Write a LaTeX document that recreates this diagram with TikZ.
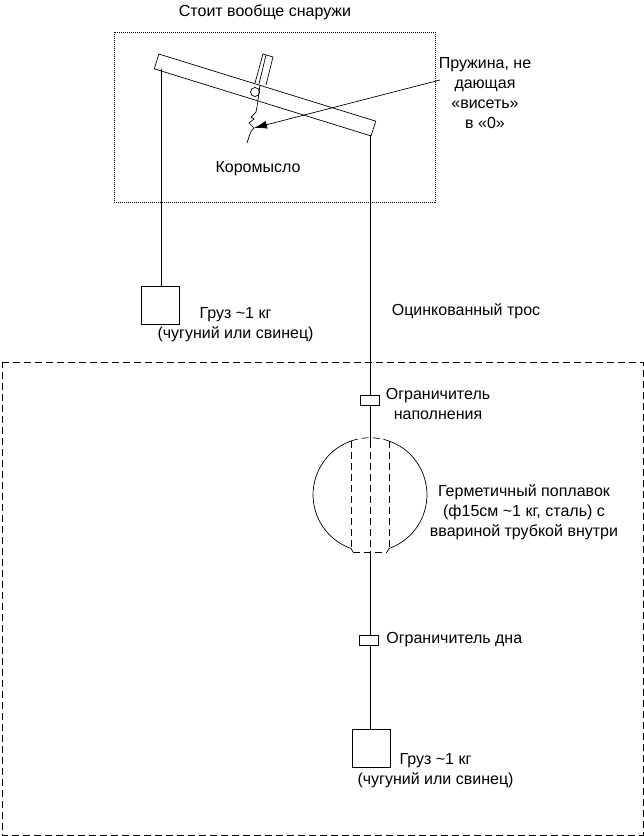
\documentclass[tikz,border=0pt]{standalone}
\usepackage{fontspec}
\usetikzlibrary{arrows.meta}
\setmainfont{Liberation Sans}
\tikzset{
  lbl/.style={align=center,inner sep=0pt,font=\fontsize{16}{20}\selectfont},
  longdash/.style={dash pattern=on 7pt off 4pt},
  weight/.style={rectangle,draw,inner sep=0pt,minimum width=38pt,minimum height=38pt},
  stopper/.style={rectangle,draw,fill=white,inner sep=0pt,minimum width=19pt,minimum height=10pt},
}
\begin{document}
\begin{tikzpicture}[x=1pt,y=-1pt,line width=0.7pt]
  \useasboundingbox (0,0) rectangle (644,836);
  % frames
  \draw[dash pattern=on 1pt off 1pt] (114,32) rectangle (435,202);
  \draw[longdash] (2,362) -- (643,362) -- (643,835) -- (2,835) -- cycle;
  % rocker
  \node[rectangle,draw,rotate=-17.2,inner sep=0pt,minimum width=227pt,minimum height=15.5pt] (beam) at (265,95) {};
  \node[circle,draw,inner sep=0pt,minimum size=9pt] (pivot) at (255,92) {};
  \coordinate (ltop) at (161,69);
  \coordinate (rtop) at (370,135);
  \draw (255,83) -- (263,54) -- (273,57) -- (266,85);
  \draw (259,84) -- (266,55);
  \coordinate (springend) at (254,128);
  \draw (260,85) -- (258,100) -- (257,107) -- (256,112) -- (251,117) -- (254,119) -- (249,123) -- (springend) .. controls (250,131) and (249,137) .. (247,143);
  \coordinate (arrowstart) at (440,80);
  \draw[-{Latex[length=13pt,width=8pt]}] (arrowstart) -- (springend);
  % left weight
  \node[weight] (wa) at (160,305) {};
  \draw (ltop) -- (wa.north -| ltop);
  % rope, stoppers, float
  \coordinate (floattop) at (370,441);
  \coordinate (floatbot) at (370,552);
  \node[weight] (wb) at (371,748) {};
  \draw (rtop) -- (floattop);
  \draw[longdash] (floattop) -- (floatbot);
  \draw (floatbot) -- (wb.north -| floatbot);
  \node[stopper] (stopa) at (369.5,400) {};
  \node[stopper] (stopb) at (369,640) {};
  \draw (351,441) arc[start angle=109.5,end angle=250.5,radius=57pt] -- (353,552);
  \draw (389,441) arc[start angle=70.5,end angle=-70.5,radius=57pt] -- (387,552);
  \draw[longdash] (351,441) -- (351,549);
  \draw[longdash] (389,441) -- (389,549);
  \draw[longdash] (351,441) arc[start angle=109.5,end angle=70.5,radius=57pt];
  \draw[longdash] (353,552) -- (387,552);
  % labels
  \node[lbl] (top) at (265,12) {Стоит вообще снаружи};
  \node[lbl] (spring) at (485,93.5) {Пружина, не\\дающая\\«висеть»\\в «0»};
  \node[lbl] (rocker) at (258,169) {Коромысло};
  \node[lbl] (wal) at (235.5,325) {Груз \textasciitilde1 кг\\(чугуний или свинец)};
  \node[lbl] (rope) at (466,311) {Оцинкованный трос};
  \node[lbl] (stopal) at (438,404) {Ограничитель\\наполнения};
  \node[lbl] (floatl) at (524,512) {Герметичный поплавок\\(ф15см \textasciitilde1 кг, сталь) с\\вваринoй трубкой внутри};
  \node[lbl,anchor=west] (stopbl) at (386,640) {Ограничитель дна};
  \node[lbl] (wbl) at (435.5,771) {Груз \textasciitilde1 кг\\(чугуний или свинец)};
\end{tikzpicture}
\end{document}
